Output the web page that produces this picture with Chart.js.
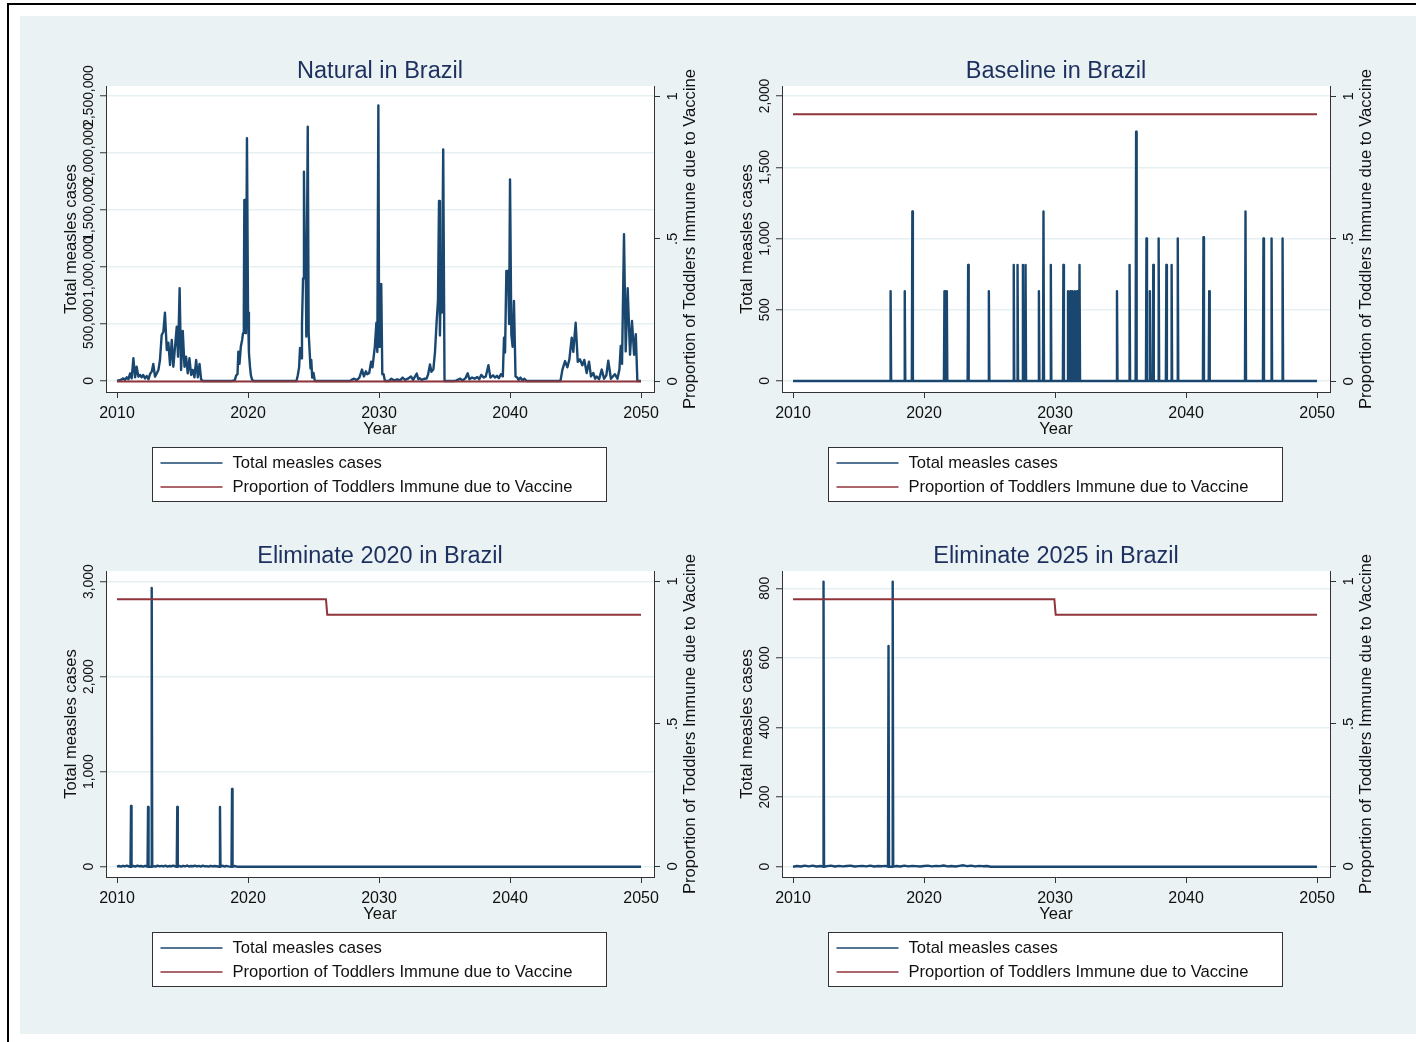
<!DOCTYPE html>
<html>
<head>
<meta charset="utf-8">
<script src="https://cdn.jsdelivr.net/npm/chart.js@4.4.0/dist/chart.umd.min.js"></script>
<style>
  html, body { margin: 0; padding: 0; background: #fff; width: 1416px; height: 1042px; overflow: hidden; }
  #frame { position: absolute; left: 7px; top: 3px; width: 1440px; height: 1060px; border-top: 2px solid #000; border-left: 2px solid #000; }
  #bg { position: absolute; left: 20px; top: 16px; width: 1396px; height: 1018px; background: #eaf2f3; }
  canvas { position: absolute; }
</style>
</head>
<body>
<div id="frame"></div>
<div id="bg"></div>
<canvas id="c1" width="676" height="495" style="left:30px;top:16px"></canvas>
<canvas id="c2" width="676" height="495" style="left:706px;top:16px"></canvas>
<canvas id="c3" width="676" height="495" style="left:30px;top:501px"></canvas>
<canvas id="c4" width="676" height="495" style="left:706px;top:501px"></canvas>
<script>
// axes
const yearTicks = [2010, 2020, 2030, 2040, 2050];
const propTicks = [0, 0.5, 1];
const propTickLabels = ['0', '.5', '1'];
const natTicks = [0, 500000, 1000000, 1500000, 2000000, 2500000];
const baseTicks = [0, 500, 1000, 1500, 2000];
const elim20Ticks = [0, 1000, 2000, 3000];
const elim25Ticks = [0, 200, 400, 600, 800];

// Natural : total measles cases
const natYears = [
  2010.0, 2010.28, 2010.48, 2010.6, 2010.74, 2010.87, 2011.0, 2011.12, 2011.25, 2011.38, 2011.5, 2011.63,
  2011.76, 2011.88, 2012.0, 2012.14, 2012.27, 2012.4, 2012.52, 2012.65, 2012.77, 2012.9, 2013.03, 2013.16,
  2013.28, 2013.41, 2013.54, 2013.66, 2013.8, 2013.92, 2014.05, 2014.18, 2014.3, 2014.43, 2014.56, 2014.66,
  2014.78, 2014.89, 2015.02, 2015.15, 2015.27, 2015.4, 2015.53, 2015.66, 2015.78, 2015.91, 2016.04, 2016.17,
  2016.3, 2016.42, 2016.55,
  2018.8, 2019.0, 2019.1, 2019.2, 2019.26, 2019.35, 2019.45, 2019.55, 2019.62, 2019.68, 2019.72, 2019.78,
  2019.84, 2019.92, 2020.0, 2020.07, 2020.15, 2020.22, 2020.3, 2020.4,
  2023.7, 2023.8, 2023.9, 2023.97, 2024.05, 2024.12, 2024.2, 2024.27, 2024.33, 2024.4, 2024.45, 2024.56,
  2024.63, 2024.7, 2024.77, 2024.83, 2024.9, 2025.0, 2025.1,
  2027.8, 2027.9, 2028.1, 2028.3, 2028.5, 2028.7, 2028.85, 2029.0, 2029.1, 2029.25, 2029.4, 2029.5,
  2029.58, 2029.68, 2029.8, 2029.87, 2029.95, 2030.01, 2030.06, 2030.12, 2030.17, 2030.25, 2030.35, 2030.45,
  2030.75, 2030.95, 2031.15, 2031.4, 2031.6, 2031.8, 2032.0, 2032.2, 2032.44, 2032.6, 2032.88, 2033.0,
  2033.1, 2033.26, 2033.45, 2033.64, 2033.75, 2033.89, 2034.0, 2034.15, 2034.27, 2034.4, 2034.5, 2034.58,
  2034.65, 2034.73, 2034.8, 2034.9, 2035.0,
  2035.8, 2036.0, 2036.2, 2036.4, 2036.6, 2036.77, 2036.9, 2037.1, 2037.3, 2037.5, 2037.65, 2037.8,
  2038.0, 2038.15, 2038.35, 2038.5, 2038.7, 2038.85, 2039.0, 2039.15, 2039.3, 2039.45, 2039.54, 2039.62,
  2039.72, 2039.85, 2039.93, 2040.0, 2040.1, 2040.2, 2040.3, 2040.42, 2040.55, 2040.65, 2040.8, 2040.95,
  2041.1, 2041.27,
  2043.85, 2044.0, 2044.2, 2044.38, 2044.53, 2044.71, 2044.83, 2045.01, 2045.17, 2045.34, 2045.52, 2045.67,
  2045.85, 2046.03, 2046.18, 2046.36, 2046.5, 2046.62, 2046.8, 2047.0, 2047.18, 2047.35, 2047.5, 2047.7,
  2047.85, 2048.0, 2048.2, 2048.35, 2048.45, 2048.55, 2048.7, 2048.83, 2048.98, 2049.16, 2049.31, 2049.47,
  2049.6, 2049.72, 2050.0
];
const natCases = [
  0, 9000, 23000, 9000, 32000, 15000, 67000, 23000, 199000, 32000, 125000, 38000,
  53000, 32000, 53000, 23000, 44000, 15000, 61000, 82000, 149000, 38000, 67000, 97000,
  184000, 403000, 432000, 599000, 272000, 336000, 140000, 360000, 125000, 301000, 476000, 213000,
  813000, 97000, 439000, 125000, 213000, 67000, 199000, 53000, 97000, 32000, 184000, 32000,
  149000, 15000, 0,
  0, 10000, 50000, 60000, 257000, 150000, 300000, 360000, 420000, 600000, 1588000, 1588000,
  420000, 2130000, 600000, 250000, 126000, 50000, 15000, 0,
  0, 50000, 120000, 290000, 200000, 500000, 900000, 1836000, 1134000, 1134000, 390000, 2231000,
  420000, 270000, 110000, 184000, 30000, 70000, 0,
  0, 10000, 20000, 8000, 30000, 100000, 40000, 85000, 60000, 70000, 170000, 120000,
  200000, 300000, 511000, 255000, 2418000, 300000, 850000, 840000, 850000, 60000, 60000, 0,
  0, 20000, 5000, 15000, 5000, 30000, 10000, 20000, 40000, 10000, 65000, 15000,
  25000, 10000, 20000, 22000, 60000, 146000, 80000, 102000, 250000, 526000, 700000, 1579000,
  400000, 1009000, 600000, 2032000, 0,
  0, 10000, 20000, 5000, 25000, 67000, 15000, 30000, 20000, 35000, 15000, 53000,
  30000, 40000, 138000, 30000, 50000, 30000, 45000, 25000, 60000, 40000, 380000, 250000,
  965000, 965000, 500000, 1769000, 410000, 300000, 702000, 40000, 30000, 10000, 30000, 5000,
  20000, 0,
  0, 100000, 175000, 120000, 190000, 380000, 255000, 511000, 168000, 190000, 137000, 185000,
  70000, 170000, 40000, 70000, 20000, 40000, 15000, 100000, 20000, 50000, 178000, 20000,
  40000, 60000, 20000, 100000, 307000, 150000, 1287000, 260000, 813000, 230000, 526000, 230000,
  410000, 0, 0
];

// Baseline : pics isolés
const baseSpikeYears = [
  2017.45, 2018.53, 2019.11, 2021.56, 2021.74, 2023.37, 2024.95, 2026.85, 2027.14, 2027.55, 2027.75, 2028.77,
  2029.12, 2029.68, 2030.64, 2030.99, 2031.17, 2031.34, 2031.52, 2031.69, 2031.87, 2034.73, 2035.69, 2036.19,
  2036.98, 2037.24, 2037.5, 2037.91, 2038.5, 2038.9, 2039.37, 2041.33, 2041.77, 2044.54, 2045.91, 2046.53,
  2047.37
];
const baseSpikeCases = [
  630, 630, 1190, 630, 630, 815, 630, 815, 815, 815, 815, 630,
  1190, 815, 815, 630, 630, 630, 630, 630, 815, 630, 815, 1750,
  1000, 630, 815, 1000, 815, 815, 1000, 1010, 630, 1190, 1000, 1000,
  1000
];

// Eliminate 2020
const elim20SpikeYears = [2011.07, 2012.37, 2012.65, 2014.6, 2017.86, 2018.78];
const elim20SpikeCases = [640, 630, 2934, 630, 630, 818];
const elim20NoiseYears = [
  2010.0, 2010.15, 2010.3, 2010.45, 2010.6, 2010.75, 2010.9, 2011.25, 2011.4, 2011.55, 2011.7, 2011.85,
  2012.0, 2012.15, 2012.8, 2012.95, 2013.1, 2013.25, 2013.4, 2013.55, 2013.7, 2013.85, 2014.0, 2014.15,
  2014.3, 2014.45, 2014.75, 2014.9, 2015.05, 2015.2, 2015.35, 2015.5, 2015.65, 2015.8, 2015.95, 2016.1,
  2016.25, 2016.4, 2016.55, 2016.7, 2016.85, 2017.0, 2017.15, 2017.3, 2017.45, 2017.6, 2018.05, 2018.2,
  2018.35, 2018.5, 2018.95, 2019.1, 2019.25, 2050.0
];
const elim20NoiseCases = [
  0, 8, 2, 10, 4, 12, 3, 9, 2, 11, 5, 8,
  2, 10, 6, 1, 12, 4, 9, 3, 11, 2, 8, 5,
  12, 3, 9, 1, 10, 4, 13, 2, 8, 5, 11, 3,
  9, 2, 12, 4, 7, 1, 10, 3, 8, 5, 11, 2,
  9, 4, 8, 3, 0, 0
];

// Eliminate 2025
const elim25SpikeYears = [2012.33, 2017.29, 2017.61];
const elim25SpikeCases = [819, 634, 819];
const elim25NoiseYears = [
  2010.0, 2010.3, 2010.6, 2010.9, 2011.2, 2011.5, 2011.8, 2012.1, 2012.6, 2012.9, 2013.2, 2013.5,
  2013.8, 2014.1, 2014.4, 2014.7, 2015.0, 2015.3, 2015.6, 2015.9, 2016.2, 2016.5, 2016.8, 2017.05,
  2017.9, 2018.2, 2018.5, 2018.8, 2019.1, 2019.4, 2019.7, 2020.0, 2020.3, 2020.6, 2020.9, 2021.2,
  2021.5, 2021.8, 2022.1, 2022.4, 2022.7, 2023.0, 2023.3, 2023.6, 2023.9, 2024.2, 2024.5, 2024.8,
  2025.1, 2050.0
];
const elim25NoiseCases = [
  0, 2, 0.5, 3, 1, 3, 0.5, 2, 1.5, 3, 0.5, 2.5,
  1, 2, 3, 0.5, 1.5, 2.5, 1, 3, 0.5, 2, 1.5, 2.5,
  2, 0.5, 3, 1, 2.5, 1.5, 0.5, 2, 3, 1, 2.5, 1.5,
  3.5, 1, 2, 0.5, 2.5, 4, 1.5, 3, 1, 2.5, 1.5, 2,
  0, 0
];

// Proportion of toddlers immune due to vaccine
const natPropYears = [2010, 2050];
const natProp = [0, 0];
const basePropYears = [2010, 2050];
const baseProp = [0.937, 0.937];
const elim20PropYears = [2010, 2025.95, 2026.05, 2050];
const elim20Prop = [0.937, 0.937, 0.883, 0.883];
const elim25PropYears = [2010, 2029.95, 2030.05, 2050];
const elim25Prop = [0.937, 0.937, 0.883, 0.883];

const NAVY = '#1a476f';
const MAROON = '#90353b';
const FONT = '"Liberation Sans", Arial, Helvetica, sans-serif';
const TICK_FONT = '13.8px ' + FONT;
const RTICK_FONT = '15px ' + FONT;
const LABEL_FONT = '16.6px ' + FONT;

function pts(xs, ys) {
  return xs.map((x, i) => ({ x: x, y: ys[i] }));
}

// un pic = mois à zéro, mois du pic, mois à zéro
function spikePts(xs, hs) {
  const out = [];
  xs.forEach((x, i) => {
    out.push({ x: x - 0.04, y: 0 }, { x: x, y: hs[i] }, { x: x + 0.04, y: 0 });
  });
  return out;
}

function merged(a, b) {
  return a.concat(b).sort((p, q) => p.x - q.x);
}

function vText(ctx, text, x, y, font) {
  ctx.save();
  ctx.translate(x, y);
  ctx.rotate(-Math.PI / 2);
  ctx.font = font;
  ctx.textAlign = 'center';
  ctx.textBaseline = 'middle';
  ctx.fillText(text, 0, 0);
  ctx.restore();
}

// fond blanc de la zone de tracé, titres, labels verticaux, légende encadrée
const stataDecor = {
  id: 'stataDecor',
  beforeDraw(chart) {
    const { ctx, chartArea: a } = chart;
    ctx.save();
    ctx.fillStyle = '#ffffff';
    ctx.fillRect(a.left, a.top, a.right - a.left, a.bottom - a.top);
    ctx.restore();
  },
  afterDraw(chart, args, opts) {
    const { ctx, chartArea: a, scales } = chart;
    const cx = (a.left + a.right) / 2;
    const cy = (a.top + a.bottom) / 2;
    ctx.save();
    ctx.fillStyle = '#1d2f5e';
    ctx.font = '23.5px ' + FONT;
    ctx.textAlign = 'center';
    ctx.textBaseline = 'middle';
    ctx.fillText(opts.title, cx, 56);

    ctx.fillStyle = '#111';
    opts.leftTicks.forEach(v => {
      vText(ctx, v.toLocaleString('en-US'), a.left - 17, scales.y.getPixelForValue(v), TICK_FONT);
    });
    propTicks.forEach((v, i) => {
      vText(ctx, propTickLabels[i], a.right + 18.5, scales.y1.getPixelForValue(v), RTICK_FONT);
    });
    vText(ctx, 'Total measles cases', a.left - 35, cy, LABEL_FONT);
    vText(ctx, 'Proportion of Toddlers Immune due to Vaccine', a.right + 36, cy, LABEL_FONT);

    ctx.font = LABEL_FONT;
    ctx.textAlign = 'center';
    ctx.textBaseline = 'middle';
    ctx.fillText('Year', cx, 413);

    // légende
    const lx = Math.round(cx - 228) + 0.5, ly = 431.5;
    ctx.fillStyle = '#fff';
    ctx.fillRect(lx, ly, 454, 54);
    ctx.strokeStyle = '#333';
    ctx.lineWidth = 1;
    ctx.strokeRect(lx, ly, 454, 54);
    const items = [['Total measles cases', NAVY], ['Proportion of Toddlers Immune due to Vaccine', MAROON]];
    items.forEach((it, i) => {
      const y = ly + 15.5 + i * 24;
      ctx.strokeStyle = it[1];
      ctx.lineWidth = 1.5;
      ctx.beginPath();
      ctx.moveTo(lx + 8, y);
      ctx.lineTo(lx + 70, y);
      ctx.stroke();
      ctx.fillStyle = '#111';
      ctx.font = LABEL_FONT;
      ctx.textAlign = 'left';
      ctx.fillText(it[0], lx + 80, y + 0.5);
    });
    ctx.restore();
  }
};

const panels = [
  { id: 'c1', title: 'Natural in Brazil', cases: pts(natYears, natCases), prop: pts(natPropYears, natProp),
    yMin: -96491, yMax: 2587719, ticks: natTicks },
  { id: 'c2', title: 'Baseline in Brazil', cases: merged([{ x: 2010, y: 0 }, { x: 2050, y: 0 }], spikePts(baseSpikeYears, baseSpikeCases)),
    prop: pts(basePropYears, baseProp), yMin: -77.2, yMax: 2070.2, ticks: baseTicks },
  { id: 'c3', title: 'Eliminate 2020 in Brazil', cases: merged(pts(elim20NoiseYears, elim20NoiseCases), spikePts(elim20SpikeYears, elim20SpikeCases)),
    prop: pts(elim20PropYears, elim20Prop), yMin: -108, yMax: 3112, ticks: elim20Ticks },
  { id: 'c4', title: 'Eliminate 2025 in Brazil', cases: merged(pts(elim25NoiseYears, elim25NoiseCases), spikePts(elim25SpikeYears, elim25SpikeCases)),
    prop: pts(elim25PropYears, elim25Prop), yMin: -29.6, yMax: 849.7, ticks: elim25Ticks }
];

panels.forEach(p => {
  new Chart(document.getElementById(p.id).getContext('2d'), {
    type: 'line',
    data: {
      datasets: [
        { label: 'Total measles cases', data: p.cases, yAxisID: 'y', borderColor: NAVY, borderWidth: 2.4,
          pointRadius: 0, tension: 0, borderJoinStyle: 'round', order: 1 },
        { label: 'Proportion of Toddlers Immune due to Vaccine', data: p.prop, yAxisID: 'y1', borderColor: MAROON,
          borderWidth: 2, pointRadius: 0, tension: 0, order: 0 }
      ]
    },
    options: {
      responsive: false,
      animation: false,
      devicePixelRatio: 1,
      layout: { padding: { top: 70, left: 0, right: 0, bottom: 0 } },
      plugins: {
        legend: { display: false },
        tooltip: { enabled: false },
        stataDecor: { title: p.title, leftTicks: p.ticks }
      },
      scales: {
        x: {
          type: 'linear', min: 2009.16, max: 2050.99,
          afterBuildTicks: s => { s.ticks = yearTicks.map(v => ({ value: v })); },
          afterFit: s => { s.height = 119; },
          ticks: { autoSkip: false, maxRotation: 0, padding: 6, color: '#111',
                   font: { family: FONT, size: 16 }, callback: v => String(v) },
          grid: { display: true, drawOnChartArea: false, drawTicks: true, tickLength: 6, tickColor: '#333', tickWidth: 1 },
          border: { display: true, color: '#333', width: 1 }
        },
        y: {
          type: 'linear', position: 'left', min: p.yMin, max: p.yMax,
          afterBuildTicks: s => { s.ticks = p.ticks.map(v => ({ value: v })); },
          afterFit: s => { s.width = 76; },
          ticks: { display: false },
          grid: { color: '#e6eff1', lineWidth: 1.5, drawTicks: true, tickLength: 6, tickColor: '#333', tickWidth: 1 },
          border: { display: true, color: '#333', width: 1 }
        },
        y1: {
          type: 'linear', position: 'right', min: -0.037, max: 1.036,
          afterBuildTicks: s => { s.ticks = propTicks.map(v => ({ value: v })); },
          afterFit: s => { s.width = 52; },
          ticks: { display: false },
          grid: { drawOnChartArea: false, drawTicks: true, tickLength: 6, tickColor: '#333', tickWidth: 1 },
          border: { display: true, color: '#333', width: 1 }
        }
      }
    },
    plugins: [stataDecor]
  });
});
</script>
</body>
</html>
